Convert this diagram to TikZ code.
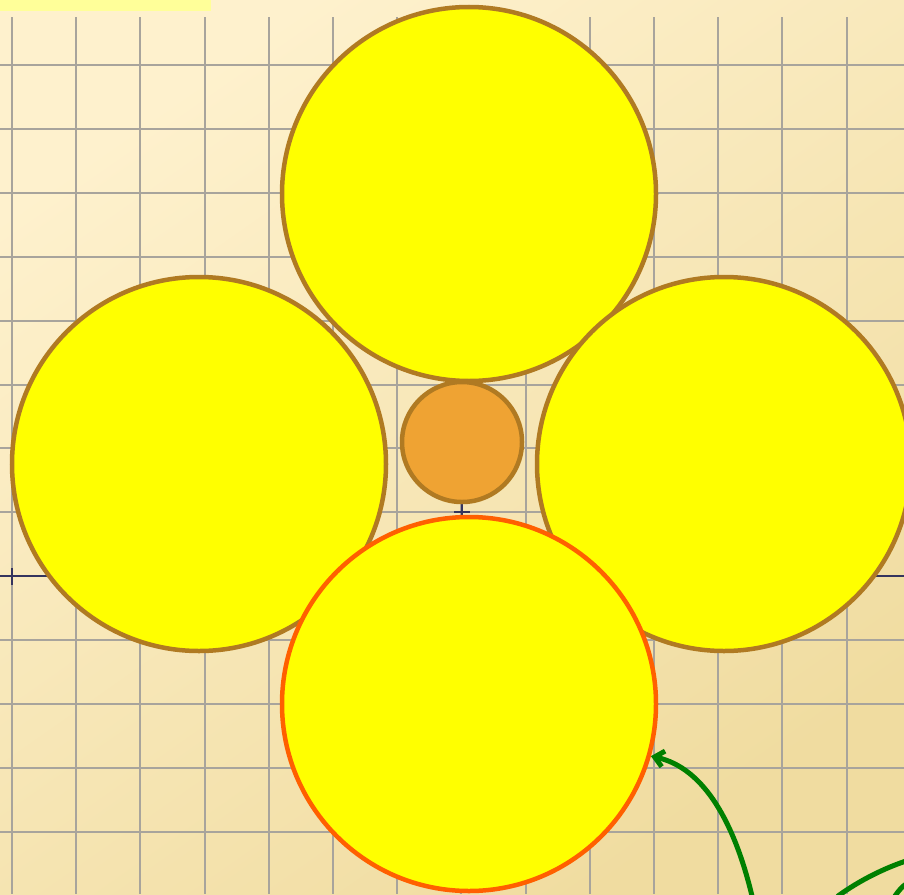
\documentclass[tikz,border=0pt]{standalone}
\usetikzlibrary{arrows.meta}
\definecolor{bgtop}{HTML}{FEF1CD}
\definecolor{bgbot}{HTML}{F0DCA0}
\definecolor{gridc}{HTML}{A8A49C}
\definecolor{axisc}{HTML}{34345E}
\definecolor{petal}{HTML}{FFFF00}
\definecolor{petaledge}{HTML}{B07A22}
\definecolor{redge}{HTML}{FF6000}
\definecolor{corefill}{HTML}{EFA333}
\definecolor{stripc}{HTML}{FFFF99}
\definecolor{arrowc}{HTML}{008000}
\tikzset{
  gridline/.style={draw=gridc, line width=2pt},
  axisline/.style={draw=axisc, line width=1.4pt},
  petalbox/.style={circle, fill=petal, draw=petaledge, line width=4.5pt, minimum size=374pt, inner sep=0pt},
  corebox/.style={circle, fill=corefill, draw=petaledge, line width=4.5pt, minimum size=120pt, inner sep=0pt},
  greenarrow/.style={draw=arrowc, line width=5pt, line cap=round},
}
\begin{document}
\begin{tikzpicture}[x=1pt,y=-1pt]
\useasboundingbox (0,0) rectangle (904,894);
\shade[top color=bgtop, bottom color=bgbot, shading angle=35] (0,0) rectangle (904,894);
\fill[stripc] (0,0) rectangle (211,11);
% grid
\foreach \k in {0,...,13} {
  \draw[gridline] ({12+64.2*\k},17) -- ({12+64.2*\k},894);
}
\foreach \k in {0,...,12} {
  \draw[gridline] (0,{65+63.9*\k}) -- (904,{65+63.9*\k});
}
% axes
\draw[axisline] (0,576) -- (904,576);
\draw[axisline] (462,20) -- (462,880);
\draw[axisline] (12,568) -- (12,585);
\draw[axisline] (454,512) -- (470,512);
% petals
\node[petalbox] (top) at (469,194) {};
\node[petalbox] (left) at (199,464) {};
\node[petalbox] (right) at (724,464) {};
\node[petalbox, draw=redge] (bot) at (469,704) {};
\node[corebox] (core) at (462,442) {};
% green arrows
\coordinate (a1) at (752,896);
\coordinate (a2) at (838,896);
\coordinate (a2e) at (906,861);
\coordinate (a3) at (895,896);
\coordinate (a3e) at (906,884);
\draw[greenarrow, -{Straight Barb[length=9pt,width=16pt]}] (a1) .. controls (735,825) and (705,768) .. (bot.-16);
\draw[greenarrow] (a2) .. controls (860,880) and (885,868) .. (a2e);
\draw[greenarrow] (a3) .. controls (899,890) and (902,887) .. (a3e);
\end{tikzpicture}
\end{document}
